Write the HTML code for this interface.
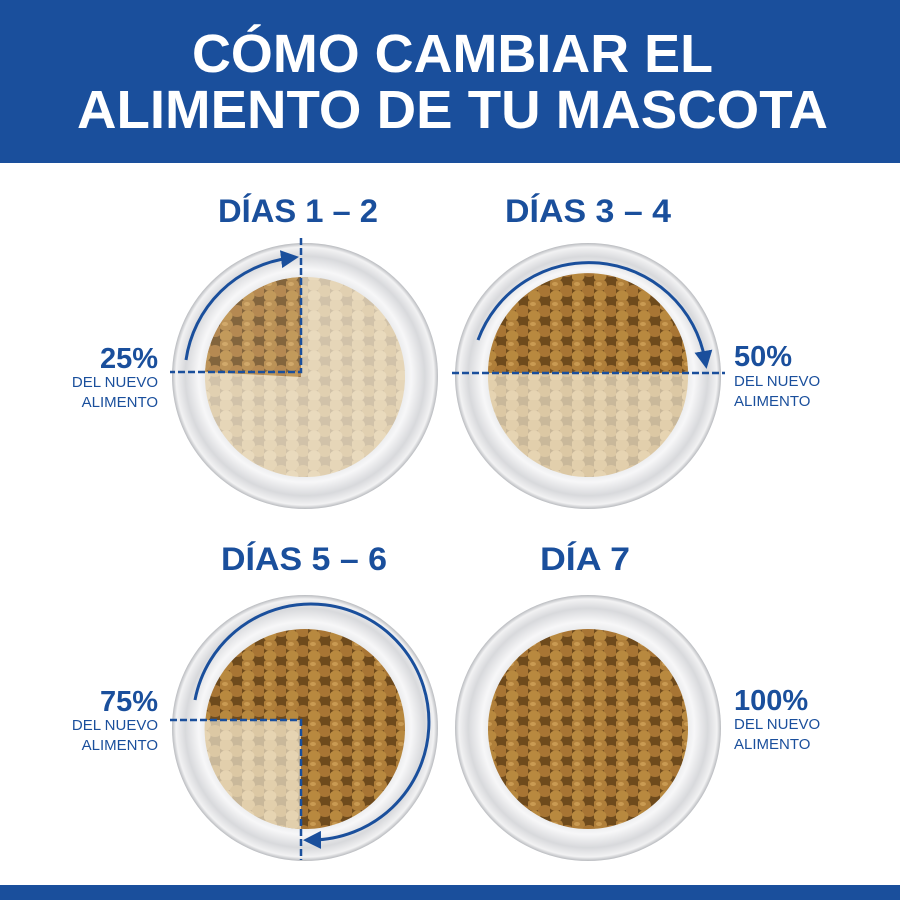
<!DOCTYPE html>
<html><head><meta charset="utf-8"><style>
body{margin:0;width:900px;height:900px;background:#fff;overflow:hidden;font-family:"Liberation Sans",Arial,sans-serif}
svg{display:block}
</style></head><body>
<svg width="900" height="900" viewBox="0 0 900 900">
<defs>
<pattern id="dark" width="22" height="20" patternUnits="userSpaceOnUse">
<rect width="22" height="20" fill="#6e4a1c"/>
<ellipse cx="6" cy="5" rx="7" ry="6" fill="#b07f3a"/>
<ellipse cx="17" cy="11" rx="7" ry="6" fill="#a87534"/>
<ellipse cx="6" cy="16" rx="6.5" ry="5.5" fill="#b8893f"/>
<ellipse cx="5" cy="4" rx="3" ry="2" fill="#c99a52"/>
</pattern>
<pattern id="light" width="22" height="20" patternUnits="userSpaceOnUse">
<rect width="22" height="20" fill="#c9b89a"/>
<ellipse cx="6" cy="5" rx="7" ry="6" fill="#e2cfac"/>
<ellipse cx="17" cy="11" rx="7" ry="6" fill="#dcc8a4"/>
<ellipse cx="6" cy="16" rx="6.5" ry="5.5" fill="#e6d4b2"/>
</pattern>
<radialGradient id="bowl" cx="50%" cy="50%" r="50%">
<stop offset="0.74" stop-color="#e9eaec"/>
<stop offset="0.8" stop-color="#f7f7f8"/>
<stop offset="0.9" stop-color="#d8d9dc"/>
<stop offset="0.97" stop-color="#f2f2f3"/>
<stop offset="1" stop-color="#b9bbbf"/>
</radialGradient>
<marker id="ah" markerWidth="6" markerHeight="6" refX="3" refY="3" orient="auto"><path d="M0,0 L6,3 L0,6 z" fill="#1a4f9c"/></marker>
</defs>
<rect x="0" y="0" width="900" height="163" fill="#1a4f9c"/>
<text x="192" y="72" textLength="521" lengthAdjust="spacingAndGlyphs" fill="#fff" font-weight="bold" font-size="54">CÓMO CAMBIAR EL</text>
<text x="77" y="128" textLength="751" lengthAdjust="spacingAndGlyphs" fill="#fff" font-weight="bold" font-size="54">ALIMENTO DE TU MASCOTA</text>
<rect x="0" y="885" width="900" height="15" fill="#1a4f9c"/>

<g font-weight="bold" fill="#1a4f9c" font-size="32">
<text x="218" y="222" textLength="160" lengthAdjust="spacingAndGlyphs">DÍAS 1 – 2</text>
<text x="505" y="222" textLength="166" lengthAdjust="spacingAndGlyphs">DÍAS 3 – 4</text>
<text x="221" y="570" textLength="166" lengthAdjust="spacingAndGlyphs">DÍAS 5 – 6</text>
<text x="540" y="570" textLength="90" lengthAdjust="spacingAndGlyphs">DÍA 7</text>
</g>

<!-- bowl 1 -->
<circle cx="305" cy="376" r="133" fill="url(#bowl)"/>
<circle cx="305" cy="377" r="100" fill="url(#light)"/>
<path d="M301,377 L301,277 A100,100 0 0 0 205,372 Z" fill="url(#dark)"/>
<circle cx="305" cy="377" r="100" fill="#fff" opacity="0.15"/>
<path d="M186,360 A120,120 0 0 1 290,258" fill="none" stroke="#1a4f9c" stroke-width="3" marker-end="url(#ah)"/>
<path d="M301,238 V372 H170" fill="none" stroke="#1a4f9c" stroke-width="2.5" stroke-dasharray="7,3"/>

<!-- bowl 2 -->
<circle cx="588" cy="376" r="133" fill="url(#bowl)"/>
<circle cx="588" cy="377" r="100" fill="url(#light)"/>
<path d="M488,373 A100,100 0 0 1 688,373 Z" fill="url(#dark)"/>
<path d="M478,340 A118,118 0 0 1 705,360" fill="none" stroke="#1a4f9c" stroke-width="3" marker-end="url(#ah)"/>
<path d="M452,373 H725" fill="none" stroke="#1a4f9c" stroke-width="2.5" stroke-dasharray="7,3"/>

<!-- bowl 3 -->
<circle cx="305" cy="728" r="133" fill="url(#bowl)"/>
<circle cx="305" cy="729" r="100" fill="url(#dark)"/>
<path d="M301,720 L205,720 A100,100 0 0 0 301,829 Z" fill="url(#light)"/>
<path d="M195,700 A118,118 0 1 1 312,840" fill="none" stroke="#1a4f9c" stroke-width="3" marker-end="url(#ah)"/>
<path d="M170,720 H301 V860" fill="none" stroke="#1a4f9c" stroke-width="2.5" stroke-dasharray="7,3"/>

<!-- bowl 4 -->
<circle cx="588" cy="728" r="133" fill="url(#bowl)"/>
<circle cx="588" cy="729" r="100" fill="url(#dark)"/>

<g fill="#1a4f9c" text-anchor="end">
<text x="158" y="368" font-size="29" font-weight="bold">25%</text>
<text x="158" y="387" font-size="15">DEL NUEVO</text>
<text x="158" y="407" font-size="15">ALIMENTO</text>
<text x="158" y="711" font-size="29" font-weight="bold">75%</text>
<text x="158" y="730" font-size="15">DEL NUEVO</text>
<text x="158" y="750" font-size="15">ALIMENTO</text>
</g>
<g fill="#1a4f9c">
<text x="734" y="366" font-size="29" font-weight="bold">50%</text>
<text x="734" y="386" font-size="15">DEL NUEVO</text>
<text x="734" y="406" font-size="15">ALIMENTO</text>
<text x="734" y="710" font-size="29" font-weight="bold">100%</text>
<text x="734" y="729" font-size="15">DEL NUEVO</text>
<text x="734" y="749" font-size="15">ALIMENTO</text>
</g>
</svg>
</body></html>
